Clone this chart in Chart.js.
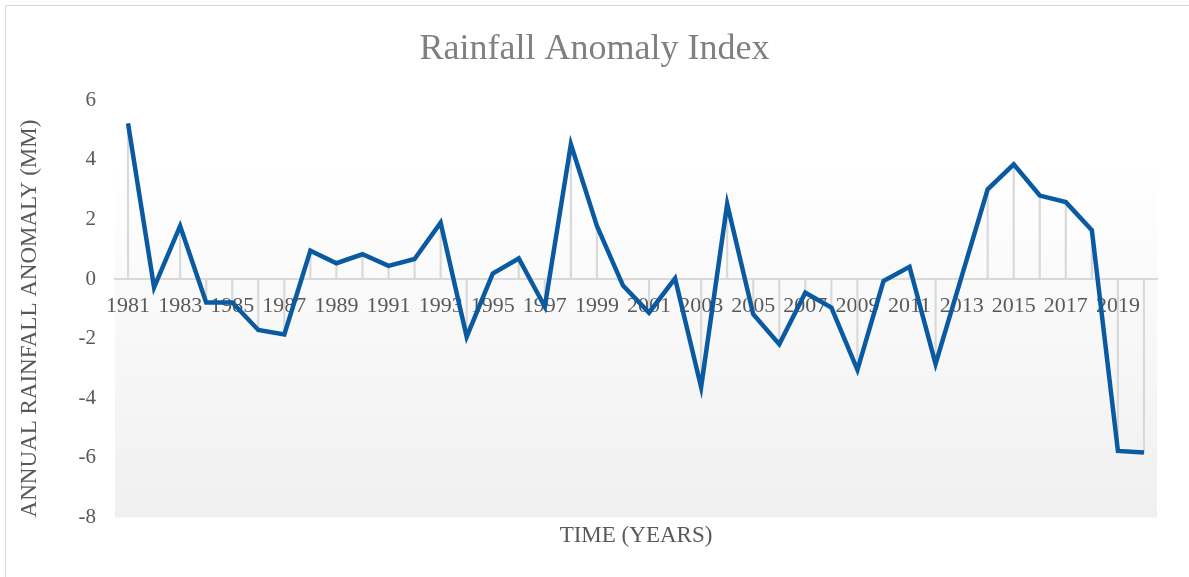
<!DOCTYPE html>
<html>
<head>
<meta charset="utf-8">
<script src="https://cdn.jsdelivr.net/npm/chart.js@4"></script>
<style>
    html, body { margin: 0; padding: 0; background: #fff; overflow: hidden; }
    #frame { position: absolute; left: 5px; top: 5px; width: 1400px; height: 800px; border: 1.5px solid #d9d9d9; }
    #wrap { position: absolute; left: 0; top: 0; width: 1189px; height: 577px; }
</style>
</head>
<body>
<div id="frame"></div>
<div id="wrap"><canvas id="rai-chart"></canvas></div>
<script>
const years = [
    '1981', '1982', '1983', '1984', '1985', '1986', '1987', '1988', '1989', '1990',
    '1991', '1992', '1993', '1994', '1995', '1996', '1997', '1998', '1999', '2000',
    '2001', '2002', '2003', '2004', '2005', '2006', '2007', '2008', '2009', '2010',
    '2011', '2012', '2013', '2014', '2015', '2016', '2017', '2018', '2019', '2020',
];
const anomaly = [
    5.22, -0.28, 1.78, -0.79, -0.79, -1.71, -1.86, 0.95, 0.53, 0.83,
    0.44, 0.67, 1.89, -1.94, 0.18, 0.69, -0.93, 4.52, 1.78, -0.22,
    -1.13, 0.02, -3.63, 2.52, -1.18, -2.19, -0.46, -0.96, -3.05, -0.07,
    0.41, -2.85, 0.08, 3.01, 3.85, 2.8, 2.58, 1.64, -5.77, -5.82,
];
const yTicks = [-8, -6, -4, -2, 0, 2, 4, 6];

const serif = "'Liberation Serif', 'DejaVu Serif', serif";
const labelGrey = '#595959';

// plot area fill, white at the top fading to light grey
const plotFill = {
    id: 'plotFill',
    beforeDraw(chart) {
        const { ctx, chartArea: a } = chart;
        const g = ctx.createLinearGradient(0, a.top, 0, a.bottom);
        g.addColorStop(0, '#ffffff');
        g.addColorStop(0.15, '#ffffff');
        g.addColorStop(1, '#f0f0f0');
        ctx.save();
        ctx.fillStyle = g;
        ctx.fillRect(a.left, a.top, a.right - a.left, a.bottom - a.top);
        ctx.restore();
    },
};

new Chart(document.getElementById('rai-chart'), {
    data: {
        labels: years,
        datasets: [
            {
                type: 'line',
                data: anomaly,
                borderColor: '#0a5aa2',
                borderWidth: 4.5,
                tension: 0,
                pointRadius: 0,
                borderJoinStyle: 'miter',
            },
            {
                // drop lines from each point to zero
                type: 'bar',
                data: anomaly.map((v) => [0, v]),
                backgroundColor: '#d9d9d9',
                barThickness: 1.5,
            },
        ],
    },
    options: {
        responsive: true,
        maintainAspectRatio: false,
        animation: false,
        layout: { padding: 0 },
        plugins: {
            legend: { display: false },
            tooltip: { enabled: false },
            title: {
                display: true,
                text: 'Rainfall Anomaly Index',
                color: '#808080',
                font: { family: serif, size: 36, weight: 'normal' },
                padding: { top: 28, bottom: 29 },
            },
            subtitle: {
                display: true,
                position: 'bottom',
                fullSize: false,
                text: 'TIME (YEARS)',
                color: labelGrey,
                font: { family: serif, size: 23, weight: 'normal' },
                padding: { top: 5, bottom: 27 },
            },
        },
        scales: {
            x: {
                position: { y: 0 },
                offset: true,
                grid: { display: false, drawTicks: false },
                border: { display: true, color: '#d9d9d9', width: 2 },
                ticks: {
                    autoSkip: false,
                    maxRotation: 0,
                    padding: 14,
                    color: labelGrey,
                    font: { family: serif, size: 22 },
                    callback: (v, i) => (i % 2 === 0 ? years[i] : ''),
                },
            },
            y: {
                min: yTicks[0],
                max: yTicks[yTicks.length - 1],
                afterFit: (scale) => { scale.width = 115; },
                afterBuildTicks: (scale) => { scale.ticks = yTicks.map((v) => ({ value: v })); },
                grid: { display: false, drawTicks: false },
                border: { display: false },
                ticks: {
                    padding: 19,
                    color: labelGrey,
                    font: { family: serif, size: 21 },
                },
                title: {
                    display: true,
                    align: 'start',
                    text: 'ANNUAL RAINFALL ANOMALY (MM)',
                    color: labelGrey,
                    font: { family: serif, size: 23 },
                    padding: { top: 16, bottom: 0 },
                },
            },
            // empty right-hand margin so the title centres on the whole frame
            yRight: {
                type: 'linear',
                position: 'right',
                afterFit: (scale) => { scale.width = 32; },
                grid: { display: false, drawTicks: false },
                border: { display: false },
                ticks: { display: false },
            },
        },
    },
    plugins: [plotFill],
});
</script>
</body>
</html>
